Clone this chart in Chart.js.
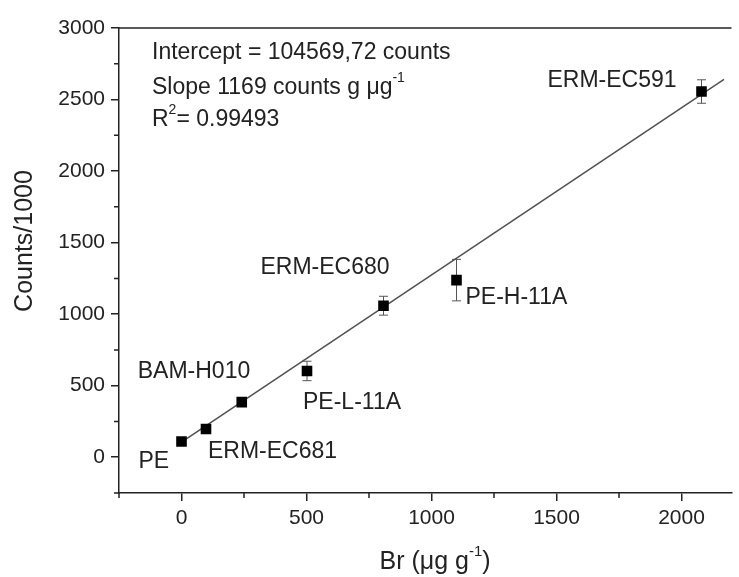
<!DOCTYPE html>
<html>
<head>
<meta charset="utf-8">
<script src="https://cdn.jsdelivr.net/npm/chart.js@4.4.0/dist/chart.umd.min.js"></script>
<style>
  html, body { margin: 0; padding: 0; background: #fff; }
  #wrap { width: 739px; height: 577px; position: relative; }
</style>
</head>
<body>
<div id="wrap"><canvas id="brChart"></canvas></div>
<script>
// Muestras y valores
const sampleNames = ['PE', 'ERM-EC681', 'BAM-H010', 'PE-L-11A', 'ERM-EC680', 'PE-H-11A', 'ERM-EC591'];
const brValues = [0, 98, 241, 502, 808, 1100, 2080];
const counts = [110, 197, 385, 603, 1059, 1238, 2556];
const countsErr = [15, 15, 15, 68, 66, 145, 82];

// Recta de calibracion (extremos)
const fitX = [0, 2170];
const fitY = [105, 2641];

const xTicks = [0, 500, 1000, 1500, 2000];
const yTicks = [0, 500, 1000, 1500, 2000, 2500, 3000];
const xMinor = [-250, 250, 750, 1250, 1750];
const yMinor = [-250, 250, 750, 1250, 1750, 2250, 2750];

// Texto del ajuste
const fitIntercept = '104569,72';
const fitSlope = '1169';
const fitR2 = '0.99493';

const FONT = "'Liberation Sans', Arial, sans-serif";
const INK = '#222';

// desplazamiento de cada etiqueta respecto a su punto (px)
const labelOffsets = [[-43, 20], [2, 23], [-104, -30], [-4, 32], [-123, -38], [9, 18], [-154, -11]];

function drawRich(ctx, parts, x, y, size) {
  let cx = x;
  parts.forEach(p => {
    if (p.sup) {
      ctx.font = Math.round(size * 0.6) + 'px ' + FONT;
      ctx.fillText(p.t, cx, y - size * 0.42);
    } else {
      ctx.font = size + 'px ' + FONT;
      ctx.fillText(p.t, cx, y);
    }
    cx += ctx.measureText(p.t).width;
  });
  return cx - x;
}

function richWidth(ctx, parts, size) {
  let w = 0;
  parts.forEach(p => {
    ctx.font = (p.sup ? Math.round(size * 0.6) : size) + 'px ' + FONT;
    w += ctx.measureText(p.t).width;
  });
  return w;
}

const extras = {
  id: 'extras',
  beforeDatasetsDraw(chart) {
    const ctx = chart.ctx, xs = chart.scales.x, ys = chart.scales.y;
    ctx.save();
    ctx.strokeStyle = '#555';
    ctx.lineWidth = 1;
    brValues.forEach((v, i) => {
      const px = xs.getPixelForValue(v);
      const top = ys.getPixelForValue(counts[i] + countsErr[i]);
      const bot = ys.getPixelForValue(counts[i] - countsErr[i]);
      ctx.beginPath();
      ctx.moveTo(px, top); ctx.lineTo(px, bot);
      ctx.moveTo(px - 4.5, top); ctx.lineTo(px + 4.5, top);
      ctx.moveTo(px - 4.5, bot); ctx.lineTo(px + 4.5, bot);
      ctx.stroke();
    });
    ctx.restore();
  },
  afterDraw(chart) {
    const ctx = chart.ctx, xs = chart.scales.x, ys = chart.scales.y;
    const a = chart.chartArea;
    ctx.save();
    // linea superior del marco
    ctx.strokeStyle = INK;
    ctx.lineWidth = 1.5;
    ctx.beginPath();
    ctx.moveTo(a.left, a.top); ctx.lineTo(a.right, a.top);
    ctx.stroke();
    // ticks menores
    ctx.beginPath();
    xMinor.forEach(v => {
      const px = xs.getPixelForValue(v);
      ctx.moveTo(px, a.bottom); ctx.lineTo(px, a.bottom + 5);
    });
    yMinor.forEach(v => {
      const py = ys.getPixelForValue(v);
      ctx.moveTo(a.left, py); ctx.lineTo(a.left - 5, py);
    });
    ctx.stroke();

    // etiquetas de las muestras
    ctx.fillStyle = INK;
    ctx.textBaseline = 'middle';
    ctx.textAlign = 'left';
    ctx.font = '23px ' + FONT;
    const pts = chart.getDatasetMeta(1).data;
    sampleNames.forEach((name, i) => {
      const p = pts[i];
      ctx.fillText(name, p.x + labelOffsets[i][0], p.y + labelOffsets[i][1]);
    });

    // texto del ajuste
    const tx = a.left + 33;
    drawRich(ctx, [{ t: 'Intercept = ' + fitIntercept + ' counts' }], tx, 53, 23);
    drawRich(ctx, [{ t: 'Slope ' + fitSlope + ' counts g \u03bcg' }, { t: '-1', sup: true }], tx, 88, 23);
    drawRich(ctx, [{ t: 'R' }, { t: '2', sup: true }, { t: '= ' + fitR2 }], tx, 120, 23);

    // titulo eje x
    const xt = [{ t: 'Br (\u03bcg g' }, { t: '-1', sup: true }, { t: ')' }];
    const w = richWidth(ctx, xt, 25);
    drawRich(ctx, xt, 435 - w / 2, 562, 25);

    // titulo eje y
    ctx.translate(25, 241);
    ctx.rotate(-Math.PI / 2);
    ctx.textAlign = 'center';
    ctx.font = '25px ' + FONT;
    ctx.fillText('Counts/1000', 0, 0);
    ctx.restore();
  }
};

const ctxBr = document.getElementById('brChart').getContext('2d');
new Chart(ctxBr, {
  type: 'scatter',
  data: {
    datasets: [
      {
        type: 'line',
        label: 'Ajuste',
        data: fitX.map((x, i) => ({ x: x, y: fitY[i] })),
        borderColor: '#505050',
        borderWidth: 1.5,
        pointRadius: 0,
        fill: false,
        order: 2
      },
      {
        label: 'Br',
        data: brValues.map((x, i) => ({ x: x, y: counts[i] })),
        pointStyle: 'rect',
        pointRadius: 7.5,
        pointHoverRadius: 7.5,
        backgroundColor: '#000',
        borderColor: '#000',
        borderWidth: 0,
        order: 1
      }
    ]
  },
  options: {
    responsive: true,
    maintainAspectRatio: false,
    animation: false,
    layout: { padding: { top: 28, right: 0, left: 0, bottom: 0 } },
    plugins: {
      legend: { display: false },
      tooltip: { enabled: false }
    },
    scales: {
      x: {
        type: 'linear',
        min: -250,
        max: 2200,
        afterBuildTicks: s => { s.ticks = xTicks.map(v => ({ value: v })); },
        afterFit: s => { s.height = 84; },
        grid: { drawOnChartArea: false, drawTicks: true, tickLength: 8, color: INK, lineWidth: 1.5 },
        border: { display: true, color: INK, width: 1.5 },
        ticks: { color: INK, font: { family: FONT, size: 21 }, padding: 5, maxRotation: 0, callback: v => String(v) }
      },
      y: {
        type: 'linear',
        min: -250,
        max: 3000,
        afterBuildTicks: s => { s.ticks = yTicks.map(v => ({ value: v })); },
        afterFit: s => { s.width = 119; },
        grid: { drawOnChartArea: false, drawTicks: true, tickLength: 8, color: INK, lineWidth: 1.5 },
        border: { display: true, color: INK, width: 1.5 },
        ticks: { color: INK, font: { family: FONT, size: 21 }, padding: 6, callback: v => String(v) }
      }
    }
  },
  plugins: [extras]
});
</script>
</body>
</html>
